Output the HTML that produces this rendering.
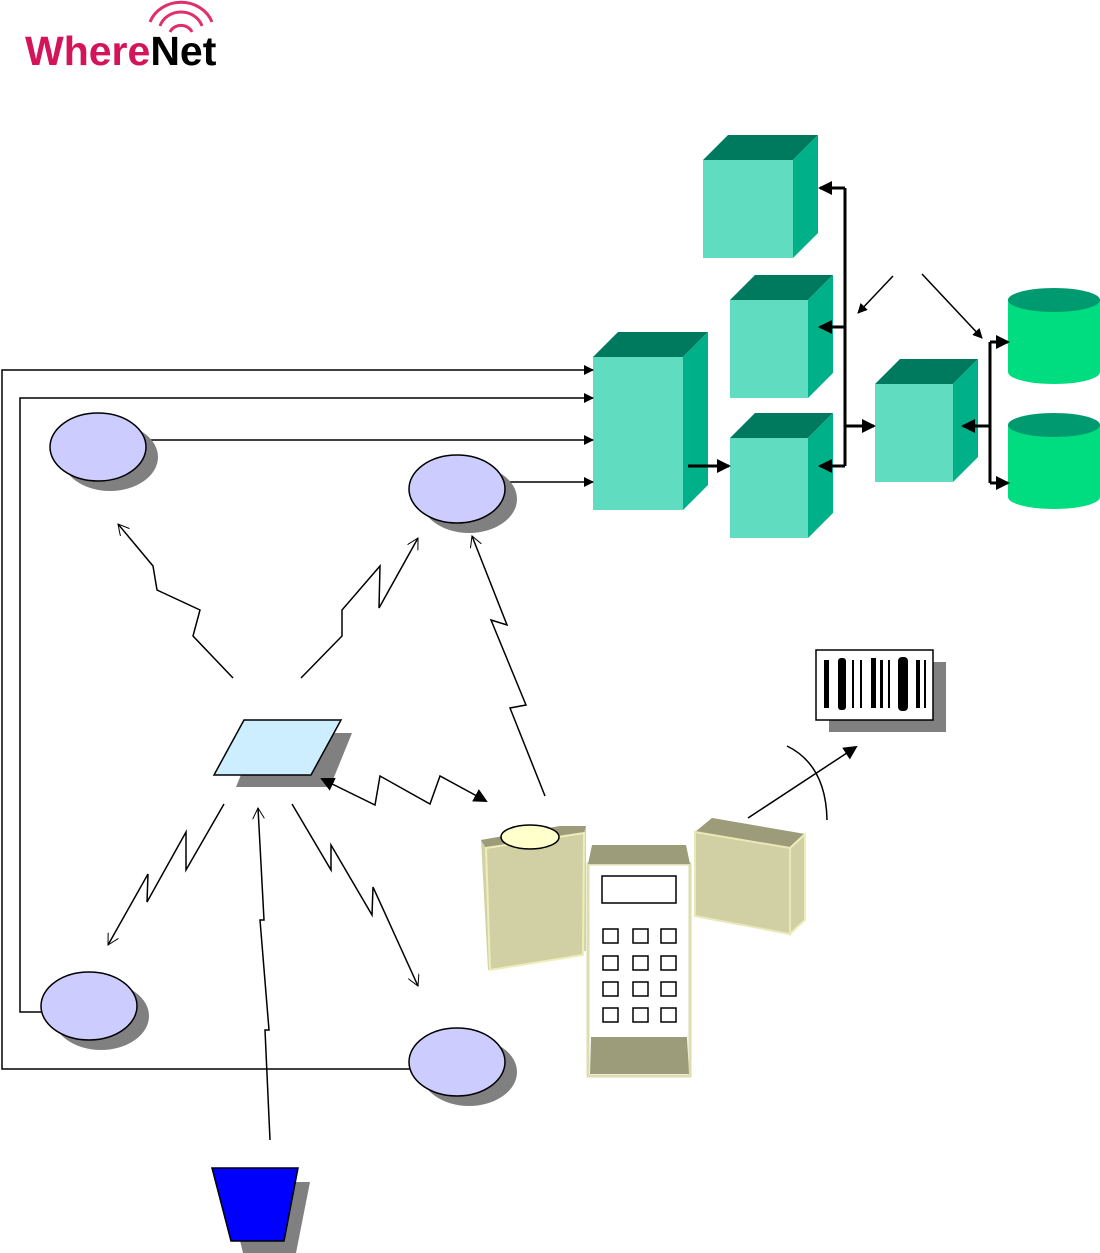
<!DOCTYPE html>
<html><head><style>body{margin:0;background:#fff}svg{display:block}</style></head><body>
<svg width="1100" height="1253" viewBox="0 0 1100 1253" xmlns="http://www.w3.org/2000/svg">
<defs>
<marker id="a" markerWidth="10" markerHeight="10" refX="9" refY="5" orient="auto" markerUnits="userSpaceOnUse"><path d="M0,0 L10,5 L0,10z" fill="#000"/></marker>
<marker id="o" markerWidth="12" markerHeight="12" refX="11" refY="6" orient="auto" markerUnits="userSpaceOnUse"><path d="M0,0 L11,6 L0,12" fill="none" stroke="#000"/></marker>
<marker id="s" markerWidth="14" markerHeight="14" refX="12" refY="7" orient="auto-start-reverse" markerUnits="userSpaceOnUse"><path d="M0,0 L14,7 L0,14z" fill="#000"/></marker>
</defs>
<text x="25" y="65" font-family="Liberation Sans, sans-serif" font-weight="bold" font-size="41" letter-spacing="0" fill="#d4145a">Where<tspan fill="#000">Net</tspan></text>
<g fill="none" stroke="#e0306a" stroke-width="3">
<path d="M150,22 A33,30 0 0 1 212,22"/><path d="M160,26 A22,20 0 0 1 202,26"/><path d="M170,32 A12,11 0 0 1 192,32"/></g>
<g stroke="none">
<path d="M703,160 L728,135 L818,135 L793,160z" fill="#007a5e"/><path d="M793,160 L818,135 L818,233 L793,258z" fill="#00b088"/><rect x="703" y="160" width="90" height="98" fill="#60ddc0"/>
<path d="M730,300 L755,275 L833,275 L808,300z" fill="#007a5e"/><path d="M808,300 L833,275 L833,373 L808,398z" fill="#00b088"/><rect x="730" y="300" width="78" height="98" fill="#60ddc0"/>
<path d="M730,438 L755,413 L833,413 L808,438z" fill="#007a5e"/><path d="M808,438 L833,413 L833,513 L808,538z" fill="#00b088"/><rect x="730" y="438" width="78" height="100" fill="#60ddc0"/>
<path d="M593,357 L618,332 L708,332 L683,357z" fill="#007a5e"/><path d="M683,357 L708,332 L708,485 L683,510z" fill="#00b088"/><rect x="593" y="357" width="90" height="153" fill="#60ddc0"/>
<path d="M875,384 L900,359 L978,359 L953,384z" fill="#007a5e"/><path d="M953,384 L978,359 L978,457 L953,482z" fill="#00b088"/><rect x="875" y="384" width="78" height="98" fill="#60ddc0"/>
<path d="M1008,300 L1008,372 A46,12 0 0 0 1100,372 L1100,300z" fill="#00dd80"/><ellipse cx="1054" cy="300" rx="46" ry="12" fill="#009a70"/>
<path d="M1008,425 L1008,497 A46,12 0 0 0 1100,497 L1100,425z" fill="#00dd80"/><ellipse cx="1054" cy="425" rx="46" ry="12" fill="#009a70"/>
</g>
<g stroke="#000" stroke-width="3" fill="none">
<path d="M845,188 L845,466"/><path d="M845,188 L820,188" marker-end="url(#s)"/><path d="M845,327 L820,327" marker-end="url(#s)"/><path d="M845,466 L820,466" marker-end="url(#s)"/>
<path d="M845,426 L874,426" marker-end="url(#s)"/>
<path d="M990,342 L990,483"/><path d="M990,342 L1008,342" marker-end="url(#s)"/><path d="M990,483 L1008,483" marker-end="url(#s)"/><path d="M990,426 L963,426" marker-end="url(#s)"/>
<path d="M688,466 L729,466" marker-end="url(#s)"/>
</g>
<g stroke="#000" stroke-width="1.5" fill="none">
<path d="M893,276 L858,313" marker-end="url(#a)"/><path d="M922,274 L982,338" marker-end="url(#a)"/>
<path d="M410,1069 L2,1069 L2,370 L593,370" marker-end="url(#a)"/>
<path d="M42,1012 L20,1012 L20,398 L593,398" marker-end="url(#a)"/>
<path d="M145,440 L593,440" marker-end="url(#a)"/>
<path d="M505,482 L593,482" marker-end="url(#a)"/>
</g>
<g stroke="#000" stroke-width="1.5">
<ellipse cx="110" cy="457" rx="48" ry="34" fill="#808080" stroke="none"/><ellipse cx="98" cy="447" rx="48" ry="34" fill="#ccccff"/>
<ellipse cx="469" cy="499" rx="48" ry="34" fill="#808080" stroke="none"/><ellipse cx="457" cy="489" rx="48" ry="34" fill="#ccccff"/>
<ellipse cx="101" cy="1016" rx="48" ry="34" fill="#808080" stroke="none"/><ellipse cx="89" cy="1006" rx="48" ry="34" fill="#ccccff"/>
<ellipse cx="469" cy="1072" rx="48" ry="34" fill="#808080" stroke="none"/><ellipse cx="457" cy="1062" rx="48" ry="34" fill="#ccccff"/>
</g>
<path d="M258,733 L352,733 L330,787 L236,787z" fill="#808080"/>
<path d="M244,720 L341,720 L311,775 L214,775z" fill="#cceeff" stroke="#000" stroke-width="1.5"/>
<g stroke="#000" stroke-width="1.5" fill="none">
<path d="M233,678 L193,636 L200,610 L157,590 L153,566 L118,524" marker-end="url(#o)"/>
<path d="M301,678 L342,636 L342,610 L380,566 L379,608 L418,538" marker-end="url(#o)"/>
<path d="M545,796 L510,708 L526,705 L491,620 L507,625 L472,536" marker-end="url(#o)"/>
<path d="M224,804 L186,870 L186,832 L147,902 L148,874 L108,945" marker-end="url(#o)"/>
<path d="M292,804 L331,870 L331,845 L372,915 L373,887 L418,986" marker-end="url(#o)"/>
<path d="M270,1140 L265,1030 L269,1030 L260,920 L264,920 L258,808" marker-end="url(#o)"/>
<path d="M322,779 L375,805 L380,776 L430,804 L440,776 L486,801" marker-start="url(#s)" marker-end="url(#s)"/>
<path d="M748,818 L856,747" marker-end="url(#s)"/>
<path d="M787,746 Q826,765 827,820"/>
</g>
<rect x="829" y="662" width="117" height="70" fill="#808080"/>
<rect x="816" y="650" width="117" height="70" fill="#fff" stroke="#000" stroke-width="1.5"/>
<g fill="#000"><rect x="824" y="660" width="5" height="48"/><rect x="838" y="658" width="8" height="52" rx="3"/><rect x="852" y="660" width="2" height="48"/><rect x="860" y="660" width="2" height="48"/><rect x="871" y="658" width="5" height="50"/><rect x="880" y="660" width="3" height="48"/><rect x="888" y="660" width="2" height="48"/><rect x="898" y="657" width="10" height="54" rx="4"/><rect x="916" y="660" width="4" height="48"/><rect x="924" y="660" width="2" height="48"/></g>
<path d="M226,1182 L310,1182 L296,1253 L243,1253z" fill="#808080"/>
<path d="M212,1168 L298,1168 L284,1241 L231,1241z" fill="#0000ff" stroke="#000" stroke-width="1.5"/>
<path d="M481,840 L560,826 L586,826 L586,951 L488,970z" fill="#d2d2a6"/>
<path d="M481,840 L486,848 L584,833 L586,826 L560,826z" fill="#9c9c7a"/>
<path d="M486,848 L584,833 L583,955 L490,970z" fill="#d0d0a4" stroke="#eeeebb" stroke-width="2"/>
<ellipse cx="530" cy="837" rx="29" ry="12" fill="#ffffcc" stroke="#000" stroke-width="1.5"/>
<rect x="588" y="864" width="102" height="212" fill="#fff" stroke="#ddddb0" stroke-width="3"/>
<path d="M592,845 L686,845 L690,864 L588,864z" fill="#9c9c7a"/>
<path d="M591,1037 L687,1037 L689,1074 L590,1074z" fill="#9c9c7a"/>
<rect x="602" y="876" width="74" height="27" fill="#fff" stroke="#000" stroke-width="1.5"/>
<g fill="#fff" stroke="#000" stroke-width="1.5">
<rect x="603" y="929" width="15" height="14"/><rect x="633" y="929" width="15" height="14"/><rect x="661" y="929" width="15" height="14"/>
<rect x="603" y="956" width="15" height="14"/><rect x="633" y="956" width="15" height="14"/><rect x="661" y="956" width="15" height="14"/>
<rect x="603" y="982" width="15" height="14"/><rect x="633" y="982" width="15" height="14"/><rect x="661" y="982" width="15" height="14"/>
<rect x="603" y="1008" width="15" height="14"/><rect x="633" y="1008" width="15" height="14"/><rect x="661" y="1008" width="15" height="14"/>
</g>
<path d="M695,832 L712,818 L805,834 L805,920 L790,934 L695,916z" fill="#d2d2a6"/>
<path d="M695,832 L712,818 L805,834 L790,848z" fill="#9c9c7a"/>
<path d="M790,848 L805,834 L805,920 L790,934z" fill="#d0d0a4" stroke="#eeeebb" stroke-width="2"/>
<path d="M695,832 L790,848 L790,934 L695,916z" fill="#d0d0a4" stroke="#e8e8b8" stroke-width="2"/>
</svg>
</body></html>
